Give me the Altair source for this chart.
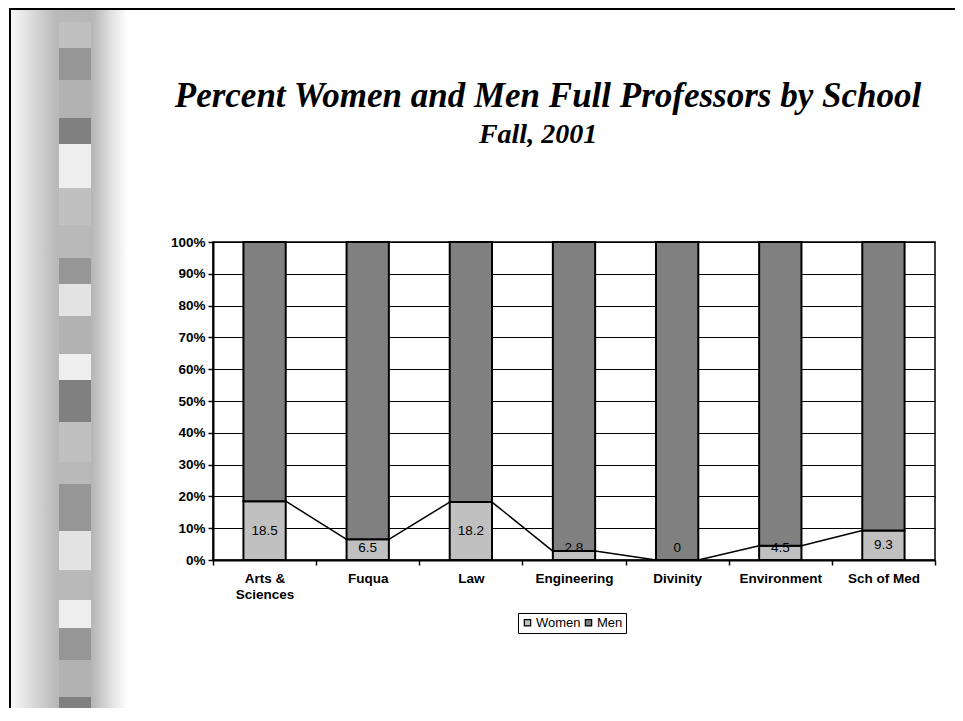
import altair as alt
import pandas as pd

# ---- chart data ----
schools = ["Arts & Sciences", "Fuqua", "Law", "Engineering", "Divinity", "Environment", "Sch of Med"]
women = [18.5, 6.5, 18.2, 2.8, 0, 4.5, 9.3]
men = [81.5, 93.5, 81.8, 97.2, 100, 95.5, 90.7]
series = ["Women", "Men"]
series_colors = ["#C0C0C0", "#808080"]
y_ticks = [0, 10, 20, 30, 40, 50, 60, 70, 80, 90, 100]
title_lines = ["Percent Women and Men Full Professors by School", "Fall, 2001"]

# ---- slide decoration (left strip), page units ----
strip_top = [22, 48, 80, 118, 144, 188, 225, 258, 284, 316, 354, 380, 422, 462, 484, 531, 570, 600, 628, 660, 697]
strip_colors = ["#c0c0c0", "#969696", "#b2b2b2", "#808080", "#eeeeee", "#c0c0c0", "#b9b9b9",
                "#969696", "#e3e3e3", "#b2b2b2", "#eeeeee", "#808080", "#c0c0c0", "#b9b9b9",
                "#969696", "#e3e3e3", "#b9b9b9", "#eeeeee", "#969696", "#b2b2b2", "#808080"]

FONT = "Liberation Sans"
SERIF = "Liberation Serif"

# tables
rows = []
for s, w, m in zip(schools, women, men):
    rows.append({"school": s, "series": "Women", "pct": w, "ord": 0})
    rows.append({"school": s, "series": "Men", "pct": m, "ord": 1})
bars_df = pd.DataFrame(rows)

labels_df = pd.DataFrame({
    "school": schools,
    "pos": [max(w / 2, 3.8) for w in women],
    "txt": [f"{w:g}" for w in women],
})

segs_df = pd.DataFrame({
    "school": schools[:-1],
    "next_school": schools[1:],
    "w": women[:-1],
    "next_w": women[1:],
})

xscale = alt.Scale(type="band", domain=schools, paddingInner=0, paddingOuter=0)
yscale = alt.Scale(domain=[0, 100], nice=False, zero=True)

xaxis = alt.Axis(tickBand="extent", grid=False, labelAngle=0, domainColor="black",
                 domainWidth=2, tickColor="black", tickWidth=1.5, tickSize=5,
                 labelPadding=6, labelFont=FONT, labelFontSize=13.5,
                 labelFontWeight="bold", labelColor="black", labelLineHeight=16,
                 labelExpr="datum.value == 'Arts & Sciences' ? ['Arts &', 'Sciences'] : datum.value")
yaxis = alt.Axis(values=y_ticks, labelExpr="datum.value + '%'", grid=True,
                 gridColor="black", gridWidth=1, gridOpacity=1, domainColor="black",
                 domainWidth=2, tickColor="black", tickWidth=1.5, tickSize=5,
                 labelFont=FONT, labelFontSize=13.5, labelFontWeight="bold",
                 labelColor="black", labelPadding=3, labelOverlap=False)

bars = alt.Chart(bars_df).mark_bar(
    stroke="black", strokeWidth=2, width=alt.RelativeBandSize(0.41)
).encode(
    x=alt.X("school:N", scale=xscale, sort=schools, title=None, axis=xaxis),
    y=alt.Y("pct:Q", stack="zero", scale=yscale, title=None, axis=yaxis),
    color=alt.Color("series:N", scale=alt.Scale(domain=series, range=series_colors),
                    legend=alt.Legend(orient="none", legendX=305, legendY=371,
                                      direction="horizontal", title=None,
                                      strokeColor="black", fillColor="white", padding=3,
                                      symbolType="square", symbolSize=40,
                                      symbolStrokeColor="black", symbolStrokeWidth=1.2,
                                      labelFont=FONT, labelFontSize=13, labelColor="black",
                                      columnPadding=1, labelOffset=2)),
    order=alt.Order("ord:Q"),
)

segs = alt.Chart(segs_df).mark_rule(color="black", strokeWidth=1.5).encode(
    x=alt.X("school:N", scale=xscale, bandPosition=0.705, title=None, axis=xaxis),
    x2=alt.X2("next_school:N", bandPosition=0.295),
    y=alt.Y("w:Q", scale=yscale, title=None, axis=yaxis),
    y2="next_w:Q",
)

labels = alt.Chart(labels_df).mark_text(
    font=FONT, fontSize=13.5, color="black", baseline="middle"
).encode(
    x=alt.X("school:N", scale=xscale, title=None, axis=xaxis),
    y=alt.Y("pos:Q", scale=yscale, title=None, axis=yaxis),
    text="txt:N",
)

main = alt.layer(bars, segs, labels)

# title as text (placed in the slide area above the plot)
title_main = alt.Chart(pd.DataFrame({"t": [title_lines[0]]})).mark_text(
    font=SERIF, fontSize=35, fontStyle="italic", fontWeight="bold", color="black",
    align="center", baseline="alphabetic"
).encode(x=alt.value(335), y=alt.value(-135), text="t:N")
title_sub = alt.Chart(pd.DataFrame({"t": [title_lines[1]]})).mark_text(
    font=SERIF, fontSize=28, fontStyle="italic", fontWeight="bold", color="black",
    align="center", baseline="alphabetic"
).encode(x=alt.value(325), y=alt.value(-99), text="t:N")

# decoration layers (page-pixel scales)
px = alt.Scale(domain=[0, 963], range=[-213, 750], zero=False, nice=False)
py = alt.Scale(domain=[0, 721], range=[-242, 479], zero=False, nice=False)

grad_df = pd.DataFrame({"x0": [11], "x1": [128], "y0": [8], "y1": [721]})
grad = alt.Chart(grad_df).mark_rect(
    color=alt.LinearGradient(
        gradient="linear", x1=0, x2=1, y1=0, y2=0,
        stops=[alt.GradientStop(color="#f8f8f8", offset=0),
               alt.GradientStop(color="#dedede", offset=0.16),
               alt.GradientStop(color="#c8c8c8", offset=0.29),
               alt.GradientStop(color="#b9b9b9", offset=0.39),
               alt.GradientStop(color="#b6b6b6", offset=0.69),
               alt.GradientStop(color="#c6c6c6", offset=0.76),
               alt.GradientStop(color="#e2e2e2", offset=0.86),
               alt.GradientStop(color="#ffffff", offset=1)])
).encode(
    x=alt.X("x0:Q", scale=px, axis=None), x2="x1:Q",
    y=alt.Y("y0:Q", scale=py, axis=None), y2="y1:Q",
)

blocks_df = pd.DataFrame({
    "x0": [59] * len(strip_top), "x1": [91] * len(strip_top),
    "y0": strip_top, "y1": strip_top[1:] + [721], "c": strip_colors,
})
blocks = alt.Chart(blocks_df).mark_rect().encode(
    x=alt.X("x0:Q", scale=px, axis=None), x2="x1:Q",
    y=alt.Y("y0:Q", scale=py, axis=None), y2="y1:Q",
    color=alt.Color("c:N", scale=None),
)

border_df = pd.DataFrame({"x0": [10, 10], "x1": [10, 963], "y0": [8, 9], "y1": [721, 9]})
borders = alt.Chart(border_df).mark_rule(color="black", strokeWidth=2).encode(
    x=alt.X("x0:Q", scale=px, axis=None), x2="x1:Q",
    y=alt.Y("y0:Q", scale=py, axis=None), y2="y1:Q",
)

deco = alt.layer(grad, blocks, borders)

chart = alt.layer(deco, main, title_main, title_sub).resolve_scale(
    x="independent", y="independent"
).properties(
    width=722, height=318,
    autosize="none",
    padding={"left": 205, "top": 234, "right": 20, "bottom": 148},
).configure_view(stroke="black", strokeWidth=1.5)

chart.save("out.html", embed_options={"renderer": "svg", "actions": False})
